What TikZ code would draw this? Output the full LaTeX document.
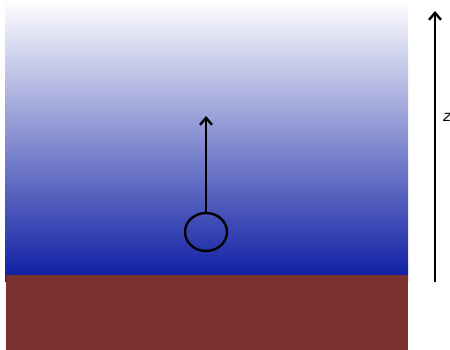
\documentclass[tikz,border=0pt]{standalone}
\usepackage{fontspec}
\setsansfont{DejaVu Sans}
\usetikzlibrary{arrows.meta, shapes.geometric}
\definecolor{water}{RGB}{12,28,162}
\definecolor{ground}{RGB}{122,48,44}
\tikzset{
    bub/.style={draw, line width=2.4pt, ellipse, inner sep=0pt, minimum width=42pt, minimum height=38pt},
    ln/.style={>={Straight Barb[length=7pt, width=12pt]}, line width=2.4pt},
}

\begin{document}
\begin{tikzpicture}[x=1pt, y=-1pt, ln]
        \useasboundingbox (0,0) rectangle (450,350);
        \shade[top color=white, bottom color=water] (5,0) rectangle (408,281);
        \fill[ground] (6,275) rectangle (408,350);

        \node[bub] (b) at (206,232) {};
        \coordinate (tip) at (206,116);
        \draw[->] (b.north) -- (tip);

        \coordinate (z0) at (435,282);
        \coordinate (z1) at (435,11);
        \draw[->] (z0) -- (z1);
        \node[font=\sffamily\itshape\fontsize{15}{18}\selectfont] (zl) at (447,117) {z};
    \end{tikzpicture}
\end{document}
